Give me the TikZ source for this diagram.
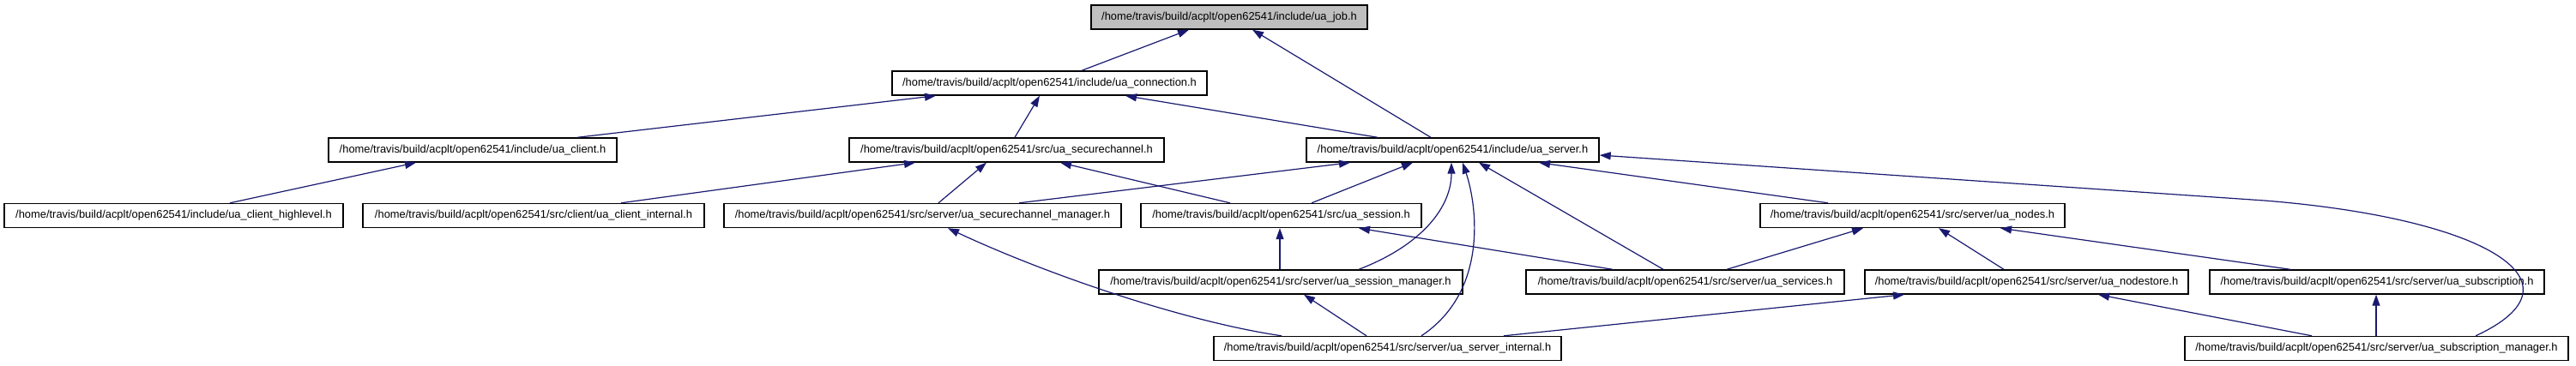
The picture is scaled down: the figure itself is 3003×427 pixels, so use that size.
\documentclass[tikz,border=0pt]{standalone}
\usepackage{fontspec}
\setmainfont{Liberation Sans}
\usetikzlibrary{arrows.meta}
\definecolor{edgeblue}{HTML}{191970}
\definecolor{rootgray}{HTML}{BFBFBF}
\begin{document}
\begin{tikzpicture}[x=1pt,y=-1pt,
 file/.style={draw=black, line width=1.4pt, fill=white, minimum height=28pt, inner sep=0pt, font=\fontsize{12.9}{15}\selectfont},
 edge/.style={draw=edgeblue, line width=1.2pt, -{Triangle[length=13pt,width=9pt]}},
]
\useasboundingbox (0,0) rectangle (3003,427);
% nodes
\node[file, minimum width=322pt, fill=rootgray] (job) at (1433,20) {/home/travis/build/acplt/open62541/include/ua\_job.h};
\node[file, minimum width=367pt] (conn) at (1223.5,97) {/home/travis/build/acplt/open62541/include/ua\_connection.h};
\node[file, minimum width=336pt] (client) at (551,175) {/home/travis/build/acplt/open62541/include/ua\_client.h};
\node[file, minimum width=367pt] (sc) at (1173.5,175) {/home/travis/build/acplt/open62541/src/ua\_securechannel.h};
\node[file, minimum width=341pt] (server) at (1693.5,175) {/home/travis/build/acplt/open62541/include/ua\_server.h};
\node[file, minimum width=395pt] (hl) at (202.5,251.5) {/home/travis/build/acplt/open62541/include/ua\_client\_highlevel.h};
\node[file, minimum width=398pt] (ci) at (622,251.5) {/home/travis/build/acplt/open62541/src/client/ua\_client\_internal.h};
\node[file, minimum width=463pt] (scm) at (1075.5,251.5) {/home/travis/build/acplt/open62541/src/server/ua\_securechannel\_manager.h};
\node[file, minimum width=327pt] (sess) at (1493.5,251.5) {/home/travis/build/acplt/open62541/src/ua\_session.h};
\node[file, minimum width=355pt] (nodes) at (2229.5,251.5) {/home/travis/build/acplt/open62541/src/server/ua\_nodes.h};
\node[file, minimum width=424pt] (sm) at (1493,329) {/home/travis/build/acplt/open62541/src/server/ua\_session\_manager.h};
\node[file, minimum width=371pt] (services) at (1964.5,329) {/home/travis/build/acplt/open62541/src/server/ua\_services.h};
\node[file, minimum width=377pt] (nodestore) at (2362.5,329) {/home/travis/build/acplt/open62541/src/server/ua\_nodestore.h};
\node[file, minimum width=390pt] (sub) at (2771,329) {/home/travis/build/acplt/open62541/src/server/ua\_subscription.h};
\node[file, minimum width=405pt] (si) at (1617.5,406.5) {/home/travis/build/acplt/open62541/src/server/ua\_server\_internal.h};
\node[file, minimum width=447pt] (subm) at (2770.5,406.5) {/home/travis/build/acplt/open62541/src/server/ua\_subscription\_manager.h};
% edges
\draw[edge] ([xshift=37.5pt]conn.north) -- ([xshift=-47pt]job.south);
\draw[edge] ([xshift=-25.5pt]server.north) -- ([xshift=27pt]job.south);
\draw[edge] ([xshift=122pt]client.north) -- ([xshift=-132.5pt]conn.south);
\draw[edge] ([xshift=9.5pt]sc.north) -- ([xshift=-11.5pt]conn.south);
\draw[edge] ([xshift=-87.5pt]server.north) -- ([xshift=88.5pt]conn.south);
\draw[edge] ([xshift=65.5pt]hl.north) -- ([xshift=-66pt]client.south);
\draw[edge] ([xshift=102pt]ci.north) -- ([xshift=-106.5pt]sc.south);
\draw[edge] ([xshift=18.5pt]scm.north) -- ([xshift=-23.5pt]sc.south);
\draw[edge] ([xshift=-59.5pt]sess.north) -- ([xshift=62.5pt]sc.south);
\draw[edge] ([xshift=112.5pt]scm.north) -- ([xshift=-119.5pt]server.south);
\draw[edge] ([xshift=35.5pt]sess.north) -- ([xshift=-46.5pt]server.south);
\draw[edge] ([xshift=91pt]sm.north) .. controls (1660,285) and (1692,240) .. ([xshift=-1.5pt]server.south);
\draw[edge] ([xshift=39.5pt]si.north) .. controls (1735,340) and (1722,240) .. ([xshift=11.5pt]server.south);
\draw[edge] ([xshift=-25.5pt]services.north) -- ([xshift=30.5pt]server.south);
\draw[edge] ([xshift=-98.5pt]nodes.north) -- ([xshift=100.5pt]server.south);
\draw[edge] ([xshift=115.5pt]subm.north) .. controls (3020,330) and (2900,255) .. (2640,234) -- ([yshift=-6pt]server.east);
\draw[edge] ([xshift=-1pt]sm.north) -- ([xshift=-1.5pt]sess.south);
\draw[edge] ([xshift=-84.5pt]services.north) -- ([xshift=90.5pt]sess.south);
\draw[edge] ([xshift=-123.5pt]si.north) .. controls (1380,375) and (1220,320) .. ([xshift=29.5pt]scm.south);
\draw[edge] ([xshift=-24.5pt]si.north) -- ([xshift=27pt]sm.south);
\draw[edge] ([xshift=48.5pt]services.north) -- ([xshift=-57.5pt]nodes.south);
\draw[edge] ([xshift=-26.5pt]nodestore.north) -- ([xshift=30.5pt]nodes.south);
\draw[edge] ([xshift=-101pt]sub.north) -- ([xshift=102.5pt]nodes.south);
\draw[edge] ([xshift=135.5pt]si.north) -- ([xshift=-142.5pt]nodestore.south);
\draw[edge] ([xshift=-75.5pt]subm.north) -- ([xshift=83.5pt]nodestore.south);
\draw[edge] ([xshift=-0.5pt]subm.north) -- ([xshift=-1pt]sub.south);
\end{tikzpicture}
\end{document}
